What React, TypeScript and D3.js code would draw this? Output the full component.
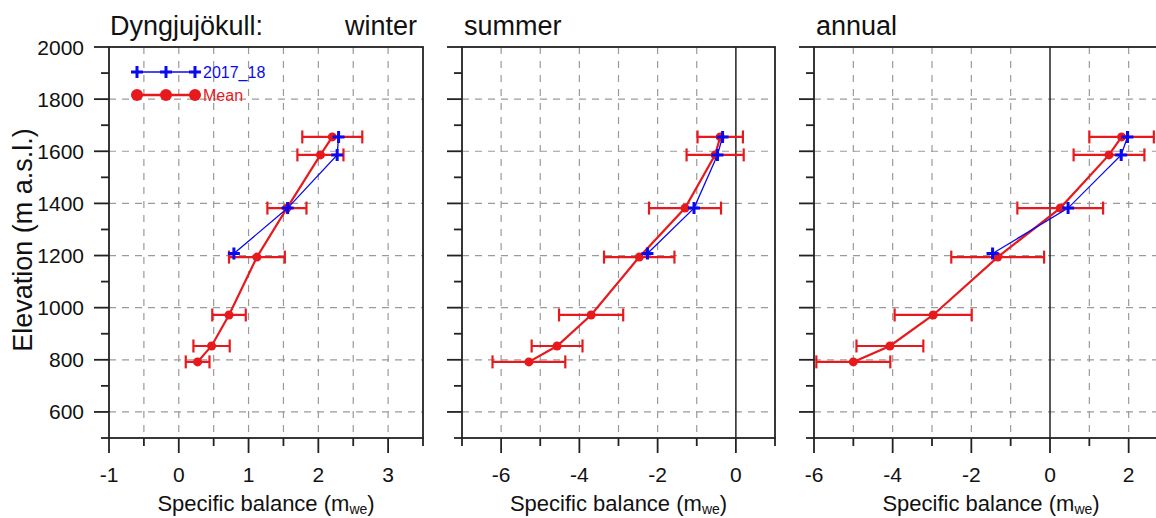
import { scaleLinear, line } from 'd3'

// elevation bands (m a.s.l.)
const ELEV_MEAN = [1655, 1586, 1382, 1194, 972, 853, 792]
const ELEV_1718 = [1655, 1586, 1382, 1208]

// winter balance
const WINTER_MEAN = [2.2, 2.03, 1.55, 1.12, 0.72, 0.47, 0.27]
const WINTER_STD = [0.43, 0.33, 0.28, 0.4, 0.24, 0.26, 0.17]
const WINTER_1718 = [2.29, 2.27, 1.56, 0.79]

// summer balance
const SUMMER_MEAN = [-0.4, -0.53, -1.3, -2.47, -3.7, -4.57, -5.29]
const SUMMER_STD = [0.58, 0.73, 0.92, 0.9, 0.82, 0.65, 0.93]
const SUMMER_1718 = [-0.34, -0.47, -1.07, -2.26]

// annual balance
const ANNUAL_MEAN = [1.82, 1.5, 0.26, -1.33, -2.97, -4.07, -5.0]
const ANNUAL_STD = [0.82, 0.9, 1.09, 1.18, 0.98, 0.85, 0.94]
const ANNUAL_1718 = [1.97, 1.81, 0.46, -1.46]

const Y_TICKS = [600, 800, 1000, 1200, 1400, 1600, 1800, 2000]
const Y_MINOR = [500, 700, 900, 1100, 1300, 1500, 1700, 1900]
const Y_GRID = [600, 800, 1000, 1200, 1400, 1600, 1800]

const WINTER_TICKS = [-1, 0, 1, 2, 3]
const WINTER_MINOR = [-0.5, 0.5, 1.5, 2.5, 3.5]
const WINTER_GRID = [-0.5, 0, 0.5, 1, 1.5, 2, 2.5, 3]

const SUMMER_TICKS = [-6, -4, -2, 0]
const SUMMER_MINOR = [-7, -5, -3, -1, 1]
const SUMMER_GRID = [-6, -5, -4, -3, -2, -1]

const ANNUAL_TICKS = [-6, -4, -2, 0, 2]
const ANNUAL_MINOR = [-5, -3, -1, 1, 3]
const ANNUAL_GRID = [-5, -4, -3, -2, -1, 1, 2]

const SERIES_LABELS = ['2017_18', 'Mean']

const RED = '#e8191c'
const BLUE = '#0a0af0'
const AXIS = '#222'
const GRID = '#9a9a9a'
const FONT = '"Liberation Sans", Arial, sans-serif'

const top = 47
const bottom = 438

const yScale = scaleLinear().domain([500, 2000]).range([bottom, top])

const PANELS = [
  {
    title: 'winter',
    titleRight: true,
    domain: [-1, 3.5],
    range: [109, 423],
    ticks: WINTER_TICKS,
    minor: WINTER_MINOR,
    grid: WINTER_GRID,
    zero: false,
    mean: WINTER_MEAN,
    std: WINTER_STD,
    year: WINTER_1718,
  },
  {
    title: 'summer',
    titleRight: false,
    domain: [-7, 1],
    range: [462, 775],
    ticks: SUMMER_TICKS,
    minor: SUMMER_MINOR,
    grid: SUMMER_GRID,
    zero: true,
    mean: SUMMER_MEAN,
    std: SUMMER_STD,
    year: SUMMER_1718,
  },
  {
    title: 'annual',
    titleRight: false,
    domain: [-6, 3],
    range: [814, 1168],
    ticks: ANNUAL_TICKS,
    minor: ANNUAL_MINOR,
    grid: ANNUAL_GRID,
    zero: true,
    mean: ANNUAL_MEAN,
    std: ANNUAL_STD,
    year: ANNUAL_1718,
  },
]

const plus = 'M-6,0H6M0,-6V6'

function Panel({ p, first }: { p: (typeof PANELS)[number]; first: boolean }) {
  const x = scaleLinear().domain(p.domain).range(p.range)
  const [x0, x1] = p.range
  const lineGen = line<[number, number]>()
    .x((d) => x(d[0]))
    .y((d) => yScale(d[1]))
  const meanPts: [number, number][] = p.mean.map((v, i) => [v, ELEV_MEAN[i]])
  const yearPts: [number, number][] = p.year.map((v, i) => [v, ELEV_1718[i]])

  return (
    <g>
      {/* grid */}
      {Y_GRID.map((t) => (
        <line
          key={'hg' + t}
          x1={x0}
          x2={x1}
          y1={yScale(t)}
          y2={yScale(t)}
          stroke={GRID}
          strokeWidth={1.2}
          strokeDasharray='7,6'
        />
      ))}
      {p.grid.map((t) => (
        <line
          key={'vg' + t}
          x1={x(t)}
          x2={x(t)}
          y1={top}
          y2={bottom}
          stroke={GRID}
          strokeWidth={1.2}
          strokeDasharray='7,7'
        />
      ))}
      {p.zero && (
        <line x1={x(0)} x2={x(0)} y1={top} y2={bottom} stroke={AXIS} strokeWidth={1.5} />
      )}

      {/* frame */}
      <rect x={x0} y={top} width={x1 - x0} height={bottom - top} fill='none' stroke={AXIS} strokeWidth={1.8} />

      {/* y ticks */}
      {Y_TICKS.map((t) => (
        <line key={'yt' + t} x1={x0 - 15} x2={x0} y1={yScale(t)} y2={yScale(t)} stroke={AXIS} strokeWidth={1.8} />
      ))}
      {Y_MINOR.map((t) => (
        <line key={'ym' + t} x1={x0 - 8} x2={x0} y1={yScale(t)} y2={yScale(t)} stroke={AXIS} strokeWidth={1.8} />
      ))}
      {first &&
        Y_TICKS.map((t) => (
          <text key={'yl' + t} x={84} y={yScale(t)} dy='0.36em' textAnchor='end' fontSize={21} fill='#111'>
            {t}
          </text>
        ))}

      {/* x ticks */}
      {p.ticks.map((t) => (
        <g key={'xt' + t}>
          <line x1={x(t)} x2={x(t)} y1={bottom} y2={bottom + 15} stroke={AXIS} strokeWidth={1.8} />
          <text x={x(t)} y={482} textAnchor='middle' fontSize={21} fill='#111'>
            {t}
          </text>
        </g>
      ))}
      {p.minor.map((t) => (
        <line key={'xm' + t} x1={x(t)} x2={x(t)} y1={bottom} y2={bottom + 8} stroke={AXIS} strokeWidth={1.8} />
      ))}

      {/* x label */}
      <text x={(x0 + x1) / 2} y={511} textAnchor='middle' fontSize={22} fill='#111'>
        <tspan>Specific balance (m</tspan>
        <tspan fontSize={14} dy={3}>
          we
        </tspan>
        <tspan dy={-3}>)</tspan>
      </text>

      {/* title */}
      <text
        x={p.titleRight ? x1 - 6 : x0 + 2}
        y={35}
        textAnchor={p.titleRight ? 'end' : 'start'}
        fontSize={27}
        fill='#111'
      >
        {p.title}
      </text>

      {/* error bars */}
      {p.mean.map((v, i) => {
        const y = yScale(ELEV_MEAN[i])
        const a = x(v - p.std[i])
        const b = x(v + p.std[i])
        return (
          <g key={'eb' + i} stroke={RED} strokeWidth={2.2}>
            <line x1={a} x2={b} y1={y} y2={y} />
            <line x1={a} x2={a} y1={y - 6.5} y2={y + 6.5} />
            <line x1={b} x2={b} y1={y - 6.5} y2={y + 6.5} />
          </g>
        )
      })}

      {/* mean */}
      <path d={lineGen(meanPts) ?? ''} fill='none' stroke={RED} strokeWidth={2.2} />
      {meanPts.map((d, i) => (
        <circle key={'mc' + i} cx={x(d[0])} cy={yScale(d[1])} r={4.5} fill={RED} />
      ))}

      {/* 2017_18 */}
      <path d={lineGen(yearPts) ?? ''} fill='none' stroke={BLUE} strokeWidth={1.3} />
      {yearPts.map((d, i) => (
        <path
          key={'yp' + i}
          d={plus}
          transform={`translate(${x(d[0])},${yScale(d[1])})`}
          stroke={BLUE}
          strokeWidth={3}
        />
      ))}
    </g>
  )
}

export default function App() {
  const legendX = [137, 166, 195]
  return (
    <svg
      width={1156}
      height={518}
      style={{ position: 'absolute', left: 0, top: 0, background: '#fff' }}
      fontFamily={FONT}
    >
      <rect width={1156} height={518} fill='#fff' />
      {PANELS.map((p, i) => (
        <Panel key={p.title} p={p} first={i === 0} />
      ))}

      <text x={110} y={35} fontSize={27} fill='#111'>
        Dyngjujökull:
      </text>

      <text transform='translate(32,240) rotate(-90)' textAnchor='middle' fontSize={27} fill='#111'>
        Elevation (m a.s.l.)
      </text>

      {/* legend */}
      <g>
        <line x1={legendX[0]} x2={legendX[2]} y1={72} y2={72} stroke={BLUE} strokeWidth={1.5} />
        {legendX.map((lx) => (
          <path key={'lp' + lx} d={plus} transform={`translate(${lx},72)`} stroke={BLUE} strokeWidth={3} />
        ))}
        <text x={203} y={72} dy='0.36em' fontSize={16} fill={BLUE}>
          {SERIES_LABELS[0]}
        </text>
        <line x1={legendX[0]} x2={legendX[2]} y1={95} y2={95} stroke={RED} strokeWidth={2.5} />
        {legendX.map((lx) => (
          <circle key={'lc' + lx} cx={lx} cy={95} r={6} fill={RED} />
        ))}
        <text x={203} y={95} dy='0.36em' fontSize={16} fill={RED}>
          {SERIES_LABELS[1]}
        </text>
      </g>
    </svg>
  )
}
